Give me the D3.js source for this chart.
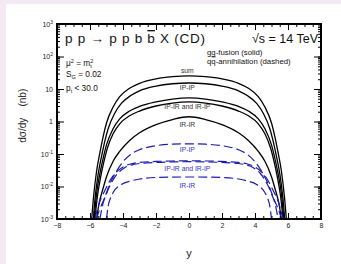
<!DOCTYPE html>
<html><head><meta charset="utf-8">
<script src="https://cdn.jsdelivr.net/npm/d3@7"></script>
<style>
body{margin:0;background:#fff;}
svg{display:block;font-family:"Liberation Sans",Arial,sans-serif;}
</style></head><body>
<svg id="chart" width="341" height="264"></svg>
<script>
// gg-fusion (solid) curves: [rapidity, dsigma/dy in nb]
const GG_SUM = [[-5.9,0.001],[-5.8,0.004],[-5.6,0.03],[-5.4,0.11],[-5.2,0.35],[-5.0,0.9],[-4.6,2.8],[-4.2,5.8],[-3.6,10.5],[-3.0,15],[-2.0,20.5],[-1.0,24],[0,25.5],[1.0,24],[2.0,20.5],[3.0,15],[3.6,10.5],[4.2,5.8],[4.6,2.8],[5.0,0.9],[5.2,0.35],[5.4,0.11],[5.6,0.03],[5.8,0.004],[5.9,0.001]];
const GG_IPIP = [[-5.8,0.001],[-5.7,0.004],[-5.5,0.025],[-5.3,0.085],[-5.1,0.25],[-4.9,0.6],[-4.5,1.8],[-4.1,3.6],[-3.5,6.4],[-3.0,8.8],[-2.0,12.3],[-1.0,14.5],[0,15.3],[1.0,14.5],[2.0,12.3],[3.0,8.8],[3.5,6.4],[4.1,3.6],[4.5,1.8],[4.9,0.6],[5.1,0.25],[5.3,0.085],[5.5,0.025],[5.7,0.004],[5.8,0.001]];
const GG_IPIR = [[-5.75,0.001],[-5.6,0.006],[-5.4,0.025],[-5.2,0.075],[-5.0,0.19],[-4.6,0.6],[-4.2,1.2],[-3.6,2.1],[-3.0,2.9],[-2.0,4.0],[-1.0,4.9],[0,5.3],[1.0,4.9],[2.0,4.0],[3.0,2.9],[3.6,2.1],[4.2,1.2],[4.6,0.6],[5.0,0.19],[5.2,0.075],[5.4,0.025],[5.6,0.006],[5.75,0.001]];
const GG_IRIP = [[-5.7,0.001],[-5.55,0.005],[-5.35,0.02],[-5.15,0.06],[-4.95,0.15],[-4.6,0.42],[-4.2,0.85],[-3.6,1.5],[-3.0,2.1],[-2.0,3.0],[-1.0,3.7],[0,4.0],[1.0,3.7],[2.0,3.0],[3.0,2.1],[3.6,1.5],[4.2,0.85],[4.6,0.42],[4.95,0.15],[5.15,0.06],[5.35,0.02],[5.55,0.005],[5.7,0.001]];
const GG_IRIR = [[-5.6,0.001],[-5.45,0.003],[-5.2,0.009],[-5.0,0.02],[-4.6,0.06],[-4.2,0.12],[-3.6,0.26],[-3.0,0.45],[-2.0,0.8],[-1.0,1.15],[0,1.4],[1.0,1.15],[2.0,0.8],[3.0,0.45],[3.6,0.26],[4.2,0.12],[4.6,0.06],[5.0,0.02],[5.2,0.009],[5.45,0.003],[5.6,0.001]];
// qq-annihilation (dashed) curves
const QQ_IPIP = [[-5.6,0.001],[-5.45,0.0018],[-5.2,0.0035],[-5.0,0.0065],[-4.8,0.012],[-4.5,0.024],[-4.0,0.058],[-3.5,0.1],[-3.0,0.135],[-2.0,0.18],[-1.0,0.2],[0,0.205],[1.0,0.2],[2.0,0.18],[3.0,0.135],[3.5,0.1],[4.0,0.058],[4.5,0.024],[4.8,0.012],[5.0,0.0065],[5.2,0.0035],[5.45,0.0018],[5.6,0.001]];
const QQ_IPIR = [[-5.7,0.001],[-5.55,0.002],[-5.4,0.0035],[-5.1,0.0075],[-4.8,0.015],[-4.4,0.028],[-4.0,0.04],[-3.5,0.05],[-3.0,0.055],[-2.0,0.059],[-1.0,0.061],[0,0.062],[1.0,0.061],[2.0,0.059],[3.0,0.055],[3.5,0.05],[4.0,0.04],[4.4,0.028],[4.8,0.015],[5.1,0.0075],[5.4,0.0035],[5.55,0.002],[5.7,0.001]];
const QQ_IRIP = [[-5.4,0.001],[-5.25,0.0025],[-5.0,0.006],[-4.7,0.013],[-4.3,0.026],[-3.9,0.038],[-3.4,0.047],[-3.0,0.051],[-2.0,0.055],[-1.0,0.057],[0,0.058],[1.0,0.057],[2.0,0.055],[3.0,0.051],[3.4,0.047],[3.9,0.038],[4.3,0.026],[4.7,0.013],[5.0,0.006],[5.25,0.0025],[5.4,0.001]];
const QQ_IRIR = [[-5.0,0.001],[-4.9,0.0025],[-4.75,0.0045],[-4.6,0.0065],[-4.1,0.0115],[-3.5,0.015],[-3.0,0.017],[-2.0,0.019],[-1.0,0.0195],[0,0.0196],[1.0,0.0195],[2.0,0.019],[3.0,0.017],[3.5,0.015],[4.1,0.0115],[4.6,0.0065],[4.75,0.0045],[4.9,0.0025],[5.0,0.001]];

const X_TICKS = [-8,-6,-4,-2,0,2,4,6,8];
const Y_DECADES = [-3,-2,-1,0,1,2,3];
const GG_LABELS = [{t:"sum",v:31},{t:"IP-IP",v:9.3},{t:"IP-IR and IR-IP",v:2.45},{t:"IR-IR",v:0.68}];
const QQ_LABELS = [{t:"IP-IP",v:0.115},{t:"IP-IR and IR-IP",v:0.03},{t:"IR-IR",v:0.009}];

const BLUE = "#1c1cb0";
const svg = d3.select("#chart");
const M = {l:57, r:321, t:24, b:219};
const x = d3.scaleLinear().domain([-8,8]).range([M.l,M.r]);
const y = d3.scaleLog().domain([1e-3,1e3]).range([M.b,M.t]);

// page tint strips
svg.append("rect").attr("x",0).attr("y",0).attr("width",341).attr("height",264).attr("fill","#fff");
svg.append("rect").attr("x",0).attr("y",0).attr("width",341).attr("height",4).attr("fill","#f3e9f5");
svg.append("rect").attr("x",0).attr("y",0).attr("width",6).attr("height",264).attr("fill","#f4e8f2");

svg.append("defs").append("clipPath").attr("id","clip")
  .append("rect").attr("x",M.l).attr("y",M.t).attr("width",M.r-M.l).attr("height",M.b-M.t);

const line = d3.line().x(d=>x(d[0])).y(d=>y(d[1])).curve(d3.curveMonotoneX);
const plot = svg.append("g").attr("clip-path","url(#clip)");

[GG_SUM,GG_IPIP,GG_IPIR,GG_IRIP,GG_IRIR].forEach(s=>{
  plot.append("path").attr("d",line(s)).attr("fill","none").attr("stroke","#000").attr("stroke-width",1.3);
});
[QQ_IPIP,QQ_IPIR,QQ_IRIP,QQ_IRIR].forEach(s=>{
  plot.append("path").attr("d",line(s)).attr("fill","none").attr("stroke",BLUE)
    .attr("stroke-width",1.2).attr("stroke-dasharray","9,4");
});

// curve labels
GG_LABELS.forEach(d=>{
  svg.append("text").attr("x",x(-0.1)).attr("y",y(d.v)).attr("text-anchor","middle")
    .attr("font-size",6.8).attr("fill","#333").text(d.t);
});
QQ_LABELS.forEach(d=>{
  svg.append("text").attr("x",x(-0.1)).attr("y",y(d.v)).attr("text-anchor","middle")
    .attr("font-size",6.8).attr("fill","#3434c0").text(d.t);
});

// frame
svg.append("rect").attr("x",M.l).attr("y",M.t).attr("width",M.r-M.l).attr("height",M.b-M.t)
  .attr("fill","none").attr("stroke","#000").attr("stroke-width",2);

// x ticks (major + minor, all sides inward)
const xMinor = d3.range(-8,8.001,0.5);
const axB = g => g.attr("transform",`translate(0,${M.b})`);
svg.append("g").call(axB).call(d3.axisBottom(x).tickValues(xMinor).tickSize(-3).tickFormat(""))
  .call(g=>g.select(".domain").remove());
svg.append("g").call(axB).call(d3.axisBottom(x).tickValues(X_TICKS).tickSize(-6).tickPadding(4).tickFormat(d3.format("d")))
  .call(g=>g.select(".domain").remove())
  .call(g=>g.selectAll("text").attr("font-size",7).attr("font-family","Liberation Sans, Arial").attr("fill","#222"));
svg.append("g").attr("transform",`translate(0,${M.t})`).call(d3.axisTop(x).tickValues(xMinor).tickSize(-3).tickFormat(""))
  .call(g=>g.select(".domain").remove());
svg.append("g").attr("transform",`translate(0,${M.t})`).call(d3.axisTop(x).tickValues(X_TICKS).tickSize(-6).tickFormat(""))
  .call(g=>g.select(".domain").remove());

// y ticks (log)
const yMinor = y.ticks();
const yMajor = Y_DECADES.map(e=>Math.pow(10,e));
[[M.l,d3.axisLeft],[M.r,d3.axisRight]].forEach(([px,ax])=>{
  svg.append("g").attr("transform",`translate(${px},0)`).call(ax(y).tickValues(yMinor).tickSize(-3).tickFormat(""))
    .call(g=>g.select(".domain").remove());
  svg.append("g").attr("transform",`translate(${px},0)`).call(ax(y).tickValues(yMajor).tickSize(-7).tickFormat(""))
    .call(g=>g.select(".domain").remove());
});

// y tick labels with exponents
Y_DECADES.forEach(e=>{
  const t = svg.append("text").attr("x",M.l-4).attr("y",y(Math.pow(10,e))+2.5)
    .attr("text-anchor","end").attr("font-size",7).attr("fill","#222");
  if (e===0) { t.text("1"); return; }
  if (e===1) { t.text("10"); return; }
  t.append("tspan").text("10");
  t.append("tspan").attr("font-size",5).attr("dy",-3).text(String(e));
});

// axis titles
svg.append("text").attr("transform",`translate(26,${y(1.5)}) rotate(-90)`).attr("text-anchor","middle")
  .attr("font-size",10).attr("fill","#222").attr("xml:space","preserve").text("dσ/dy    (nb)");
svg.append("text").attr("x",x(0)).attr("y",257).attr("text-anchor","middle")
  .attr("font-size",11).attr("fill","#222").text("y");

// header texts
const h = svg.append("text").attr("x",65).attr("y",43).attr("font-size",13.5).attr("fill","#111")
  .attr("textLength",140).attr("lengthAdjust","spacing");
h.append("tspan").text("p p → p p b ");
h.append("tspan").attr("text-decoration","overline").text("b");
h.append("tspan").text(" X (CD)");
svg.append("text").attr("x",318).attr("y",43).attr("text-anchor","end").attr("font-size",12.5).attr("fill","#111").text("√s = 14 TeV");

svg.append("text").attr("x",207).attr("y",55).attr("font-size",7.8).attr("fill","#111").text("gg-fusion (solid)");
const qq = svg.append("text").attr("x",207).attr("y",63.5).attr("font-size",7.8).attr("fill","#111");
qq.append("tspan").text("q");
qq.append("tspan").attr("text-decoration","overline").text("q");
qq.append("tspan").text("-annihilation (dashed)");

const mu = svg.append("text").attr("x",66).attr("y",66).attr("font-size",8.3).attr("fill","#111");
mu.append("tspan").text("μ");
mu.append("tspan").attr("font-size",5.5).attr("dy",-3).text("2");
mu.append("tspan").attr("dy",3).text(" = m");
mu.append("tspan").attr("font-size",5.5).attr("dy",-3).text("2");
mu.append("tspan").attr("font-size",5.5).attr("dx",-3).attr("dy",5).text("t");

const sg = svg.append("text").attr("x",66).attr("y",77).attr("font-size",8.3).attr("fill","#111");
sg.append("tspan").text("S");
sg.append("tspan").attr("font-size",5.5).attr("dy",2).text("G");
sg.append("tspan").attr("dy",-2).text(" = 0.02");

const pt = svg.append("text").attr("x",66).attr("y",91).attr("font-size",8.3).attr("fill","#111");
pt.append("tspan").text("p");
pt.append("tspan").attr("font-size",5.5).attr("dy",2).text("t");
pt.append("tspan").attr("dy",-2).text(" < 30.0");
</script>
</body></html>
